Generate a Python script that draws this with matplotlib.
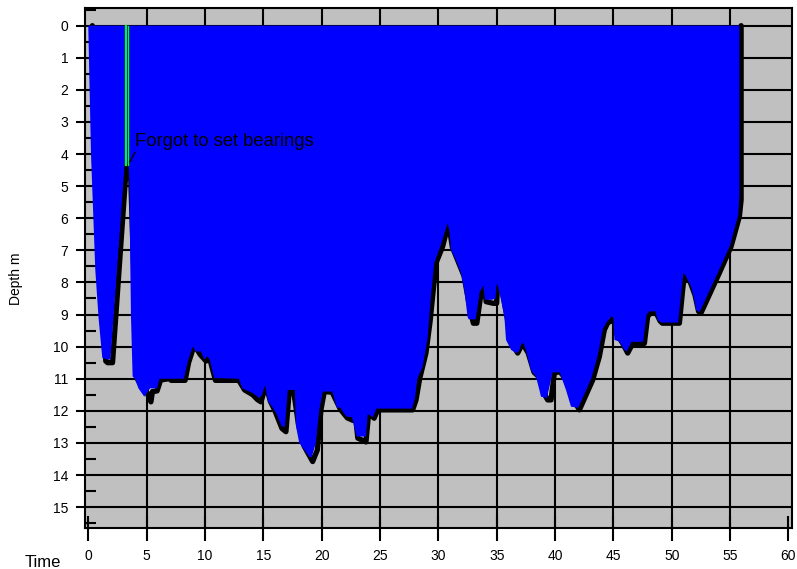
import matplotlib
matplotlib.use("Agg")
import matplotlib.pyplot as plt

plt.rcParams['font.family'] = ['Liberation Sans', 'DejaVu Sans']

# Sonar depth profile (time in minutes, depth in m) -> blue water fill boundary
sonar_time = [0.0, 0.23, 0.6, 0.88, 1.2, 1.65, 1.9, 3.12, 3.45, 3.51, 3.66, 3.8, 4.0, 4.3, 4.8,
              5.1, 5.3, 5.9, 6.1, 8.2, 8.5, 8.95, 9.2, 9.66, 9.94, 10.2, 10.4, 10.8, 12.9, 13.2,
              14.06, 14.66, 14.9, 15.15, 15.4, 15.8, 16.1, 16.57, 16.85, 17.1, 17.7, 17.8, 18.08,
              18.94, 19.15, 19.5, 19.8, 20.1, 20.9, 21.0, 21.3, 21.6, 22.1, 22.6, 23.0, 23.8,
              23.95, 24.4, 24.7, 27.75, 28.0, 28.2, 28.66, 29.08, 29.35, 29.65, 30.2, 30.8, 30.95,
              31.09, 31.5, 31.94, 32.23, 32.5, 32.6, 33.2, 33.55, 33.85, 34.0, 34.6, 34.9, 35.0,
              35.1, 35.37, 35.66, 35.8, 36.23, 36.66, 36.9, 37.15, 37.3, 37.5, 37.94, 38.37, 38.66,
              38.8, 39.3, 39.8, 40.4, 40.94, 41.37, 41.9, 42.0, 43.1, 43.65, 44.1, 44.4, 44.85,
              45.0, 45.09, 45.5, 45.94, 46.15, 46.55, 47.55, 47.85, 48.1, 48.6, 48.8, 49.1, 50.55,
              50.85, 51.0, 51.2, 51.66, 51.94, 52.09, 52.4, 53.95, 55.0, 55.7, 55.8, 55.8]
sonar_depth = [0.0, 3.96, 7.6, 9.1, 10.35, 10.4, 10.4, 4.3, 4.3, 4.8, 9.06, 10.93, 11.0, 11.3, 11.56,
               11.4, 11.3, 11.3, 11.0, 11.0, 10.5, 10.0, 10.15, 10.15, 10.4, 10.3, 10.4, 10.98, 11.0, 11.3,
               11.44, 11.6, 11.5, 11.2, 11.7, 11.9, 12.07, 12.48, 12.5, 11.35, 11.35, 12.48, 13.0,
               13.43, 13.45, 13.0, 11.97, 11.4, 11.4, 11.5, 11.9, 11.9, 12.18, 12.2, 12.8, 12.8,
               12.1, 12.2, 11.93, 11.93, 11.6, 11.0, 10.62, 9.74, 8.5, 7.4, 6.85, 6.15, 6.4,
               6.98, 7.3, 7.7, 8.23, 9.06, 9.15, 9.15, 8.3, 8.1, 8.54, 8.54, 8.5, 8.05,
               8.1, 8.54, 9.06, 9.79, 10.1, 10.2, 10.15, 9.9, 9.9, 10.1, 10.73, 10.94, 11.35,
               11.56, 11.6, 10.8, 10.8, 11.35, 11.87, 11.9, 11.9, 11.0, 10.3, 9.45, 9.25, 9.05,
               9.1, 9.79, 9.84, 10.1, 10.15, 9.85, 9.85, 9.0, 8.9, 8.9, 9.17, 9.25, 9.25,
               8.2, 7.7, 7.8, 8.13, 8.54, 8.86, 8.92, 7.7, 6.85, 5.9, 5.3, 0.0]

# Bottom line (black) time / depth
bottom_time = [0.35, 1.5, 1.66, 2.08, 3.27, 3.6, 4.2, 4.5, 5.0, 5.37, 5.5, 5.9, 6.2, 6.9, 7.0, 7.1,
               8.3, 8.6, 9.08, 9.6, 10.1, 10.4, 10.5, 10.9, 12.9, 13.4, 14.1, 14.5, 14.8, 15.23,
               15.6, 16.0, 16.6, 16.94, 17.23, 17.6, 18.0, 18.5, 19.23, 19.63, 19.94, 20.23, 20.9,
               21.6, 22.2, 22.7, 22.85, 22.95, 23.1, 23.8, 24.03, 24.5, 24.8, 27.8, 28.09, 28.4,
               28.94, 29.3, 29.51, 29.8, 30.37, 30.88, 31.2, 31.7, 32.2, 32.6, 33.0, 33.3, 33.66,
               33.94, 34.1, 34.7, 35.0, 35.08, 35.5, 35.9, 36.3, 36.8, 37.23, 37.7, 38.2, 38.8,
               39.2, 39.37, 39.66, 39.94, 40.4, 40.9, 41.5, 42.09, 43.23, 43.8, 44.23, 44.5,
               44.88, 44.95, 45.3, 45.8, 46.23, 46.66, 47.66, 47.94, 48.23, 48.66, 49.0, 49.2,
               50.66, 50.94, 51.09, 51.6, 52.0, 52.3, 52.5, 54.08, 55.09, 55.8, 55.95, 55.95]
bottom_depth = [0.0, 10.45, 10.5, 10.5, 4.35, 4.35, 11.0, 11.2, 11.4, 11.72, 11.4, 11.38, 11.04, 11.0,
                10.85, 11.05, 11.05, 10.5, 9.95, 10.25, 10.45, 10.15, 10.5, 11.05, 11.05, 11.35,
                11.5, 11.65, 11.72, 11.2, 11.7, 12.0, 12.55, 12.65, 11.35, 11.38, 12.4, 13.1,
                13.58, 13.22, 11.97, 11.4, 11.42, 11.95, 12.22, 12.3, 11.9, 12.35, 12.85, 12.97,
                12.07, 12.23, 11.97, 11.97, 11.66, 11.0, 10.2, 9.2, 8.44, 7.4, 6.88, 6.15, 6.9,
                7.35, 7.8, 8.6, 9.27, 9.27, 8.34, 8.13, 8.6, 8.65, 8.65, 8.08, 8.3, 9.1, 9.9,
                10.2, 9.9, 10.2, 10.8, 11.0, 11.55, 11.66, 11.66, 10.83, 10.77, 11.0, 11.6, 11.97,
                11.04, 10.31, 9.48, 9.27, 9.17, 9.06, 9.6, 9.9, 10.2, 9.9, 9.9, 9.06, 8.94, 8.94,
                9.2, 9.27, 9.27, 8.23, 7.76, 8.0, 8.4, 8.9, 8.96, 7.71, 6.88, 5.95, 5.43, 0.0]

# Annotation / marker
note_text = "Forgot to set bearings"
marker_time = [3.2, 3.43]
marker_depth = [0.0, 4.33]

x_ticks = list(range(0, 61, 5))
y_ticks = list(range(0, 16))
y_minor = [v + 0.5 for v in range(-1, 16)]

fig = plt.figure(figsize=(7.97, 5.69), dpi=100)
ax = fig.add_axes([85 / 797, 41 / 569, 707 / 797, 520 / 569])
ax.set_facecolor('#C0C0C0')
ax.set_xlim(-0.28, 60.31)
ax.set_ylim(15.65, -0.55)

# grid lines (under the water fill)
for xv in x_ticks[1:-1]:
    ax.axvline(xv, color='black', lw=1.5, zorder=1)
for yv in y_ticks:
    ax.axhline(yv, color='black', lw=1.5, zorder=1)

# bottom line drawn under the water fill
ax.plot(bottom_time, bottom_depth, color='black', lw=3.8, zorder=2,
        solid_joinstyle='round', solid_capstyle='round')

# water fill
ax.fill(sonar_time, sonar_depth, color='#0000FF', lw=0, zorder=3)

# marker lines
ax.plot([marker_time[0]] * 2, marker_depth, color='#00FF00', lw=1.6, zorder=4)
ax.plot([marker_time[1]] * 2, marker_depth, color='#00FF00', lw=0.9, zorder=4)
ax.plot([3.55, 4.0], [4.25, 3.95], color='black', lw=1.0, zorder=5)
ax.text(4.02, 3.62, note_text, fontsize=13.2, ha='left', va='center', color='black', zorder=6)

# ticks
ax.set_xticks(x_ticks)
ax.set_xticklabels([str(v) for v in x_ticks])
ax.set_yticks(y_ticks)
ax.set_yticklabels([str(v) for v in y_ticks])
ax.set_yticks(y_minor, minor=True)
ax.tick_params(axis='x', which='major', direction='inout', length=18, width=1.5,
               labelsize=10, pad=6)
ax.tick_params(axis='y', which='major', direction='out', length=6.5, width=1.5,
               labelsize=10, pad=5.5)
ax.tick_params(axis='y', which='minor', direction='in', length=8, width=1.5)
ax.tick_params(axis='x', which='minor', bottom=False)
for s in ax.spines.values():
    s.set_linewidth(1.5)
    s.set_zorder(7)

fig.text(16 / 797, 1 - 279 / 569, 'Depth m', rotation=90, ha='center', va='center', fontsize=10)
fig.text(43 / 797, 0.004, 'Time', ha='center', va='baseline', fontsize=12)

fig.savefig('out.png', dpi=100)
